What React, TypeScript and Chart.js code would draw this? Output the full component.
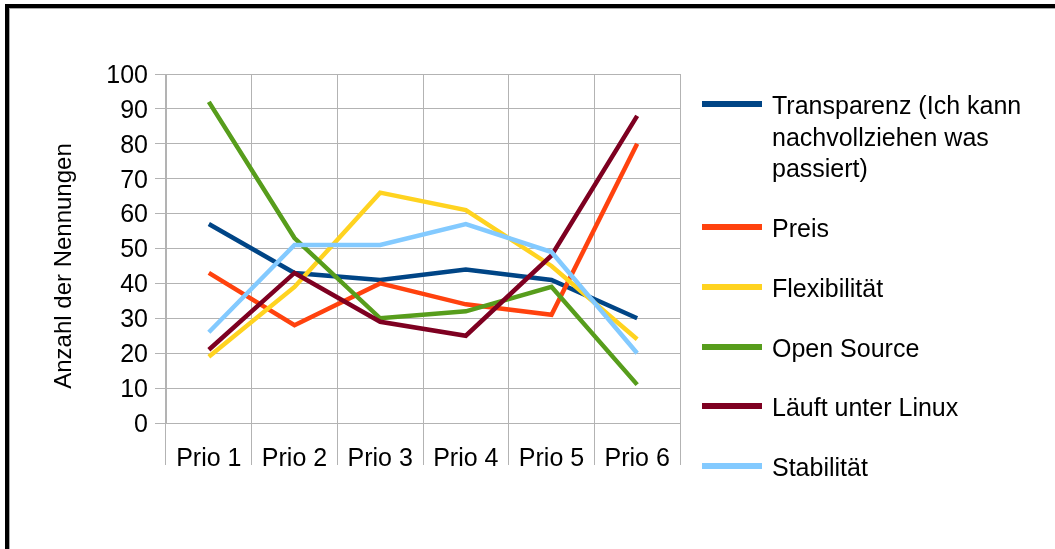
import React, { useEffect, useRef } from "react";
import { Chart, registerables } from "chart.js";

Chart.register(...registerables);

// ---- data ----
const categories = ["Prio 1", "Prio 2", "Prio 3", "Prio 4", "Prio 5", "Prio 6"];
const seriesNames = [
  "Transparenz (Ich kann nachvollziehen was passiert)",
  "Preis",
  "Flexibilität",
  "Open Source",
  "Läuft unter Linux",
  "Stabilität",
];
const transparenz = [57, 43, 41, 44, 41, 30];
const preis = [43, 28, 40, 34, 31, 80];
const flexibilitaet = [19, 39, 66, 61, 45, 24];
const openSource = [92, 53, 30, 32, 39, 11];
const laeuftUnterLinux = [21, 43, 29, 25, 48, 88];
const stabilitaet = [26, 51, 51, 57, 49, 20];
const seriesColors = ["#004586", "#ff420e", "#ffd320", "#579d1c", "#7e0021", "#83caff"];
const yMin = 0;
const yMax = 100;
const yStep = 10;
const yAxisTitle = "Anzahl der Nennungen";

const FONT = "'Liberation Sans', Arial, sans-serif";
const GRID = "#b3b3b3";

const decorPlugin = {
  id: "decor",
  beforeDraw(chart: any) {
    const ctx = chart.ctx as CanvasRenderingContext2D;
    const w = chart.width;
    const h = chart.height;
    ctx.save();
    ctx.fillStyle = "#ffffff";
    ctx.fillRect(0, 0, w, h);
    ctx.fillStyle = "#000000";
    ctx.fillRect(5, 4, w - 5, 4);
    ctx.fillRect(5, 4, 4, h - 4);
    ctx.fillStyle = "#a8a8a8";
    ctx.fillRect(9, 8, w - 9, 1);
    ctx.fillRect(9, 8, 1, h - 8);
    ctx.restore();
  },
  afterDraw(chart: any) {
    const ctx = chart.ctx as CanvasRenderingContext2D;
    ctx.save();
    // y axis title
    ctx.fillStyle = "#000";
    ctx.font = `24px ${FONT}`;
    ctx.translate(71, 266);
    ctx.rotate(-Math.PI / 2);
    ctx.textAlign = "center";
    ctx.textBaseline = "alphabetic";
    ctx.fillText(yAxisTitle, 0, 0);
    ctx.restore();

    // legend
    ctx.save();
    ctx.font = `25px ${FONT}`;
    ctx.textAlign = "left";
    ctx.textBaseline = "alphabetic";
    const lineH = 31.7;
    const gap = 28;
    let y = 105;
    const maxW = 270;
    chart.data.datasets.forEach((ds: any) => {
      const words = String(ds.label).split(" ");
      const lines: string[] = [];
      let cur = "";
      for (const wd of words) {
        const t = cur ? cur + " " + wd : wd;
        if (ctx.measureText(t).width > maxW && cur) {
          lines.push(cur);
          cur = wd;
        } else cur = t;
      }
      if (cur) lines.push(cur);
      ctx.fillStyle = ds.borderColor;
      ctx.fillRect(702, Math.round(y - 4), 60, 6);
      ctx.fillStyle = "#000";
      lines.forEach((ln, j) => {
        ctx.fillText(ln, 772, y + j * lineH + 9);
      });
      y += lines.length * lineH + gap;
    });
    ctx.restore();
  },
};

export default function App() {
  const ref = useRef<HTMLCanvasElement | null>(null);
  useEffect(() => {
    if (!ref.current) return;
    const values = [transparenz, preis, flexibilitaet, openSource, laeuftUnterLinux, stabilitaet];
    const chart = new Chart(ref.current, {
      type: "line",
      data: {
        labels: categories,
        datasets: values.map((v, i) => ({
          label: seriesNames[i],
          data: v,
          borderColor: seriesColors[i],
          backgroundColor: seriesColors[i],
          borderWidth: 4.5,
          pointRadius: 0,
          pointHoverRadius: 0,
          tension: 0,
          fill: false,
          order: values.length - i,
        })),
      },
      options: {
        responsive: false,
        animation: false,
        events: [],
        layout: { padding: { left: 0, top: 74, right: 1055 - 680, bottom: 0 } },
        plugins: {
          legend: { display: false },
          tooltip: { enabled: false },
          title: { display: false },
        },
        scales: {
          x: {
            type: "category",
            offset: true,
            grid: {
              display: true,
              offset: true,
              color: GRID,
              lineWidth: 1,
              drawTicks: true,
              tickLength: 42,
              tickColor: GRID,
            },
            border: { display: true, color: GRID, width: 1 },
            ticks: {
              color: "#000",
              font: { family: FONT, size: 25 },
              padding: -21,
              maxRotation: 0,
              autoSkip: false,
            },
            afterFit(scale: any) {
              scale.height = 549 - 423;
            },
          },
          y: {
            min: yMin,
            max: yMax,
            ticks: {
              stepSize: yStep,
              color: "#000",
              font: { family: FONT, size: 25 },
              padding: 7,
              labelOffset: 2,
            },
            grid: {
              color: GRID,
              lineWidth: 1,
              drawTicks: true,
              tickLength: 11,
              tickColor: GRID,
            },
            border: { display: true, color: GRID, width: 1 },
            afterFit(scale: any) {
              scale.width = 166;
            },
          },
        },
      },
      plugins: [decorPlugin],
    });
    return () => chart.destroy();
  }, []);
  return (
    <canvas
      ref={ref}
      width={1055}
      height={549}
      style={{ position: "fixed", left: 0, top: 0, width: 1055, height: 549 }}
    />
  );
}
